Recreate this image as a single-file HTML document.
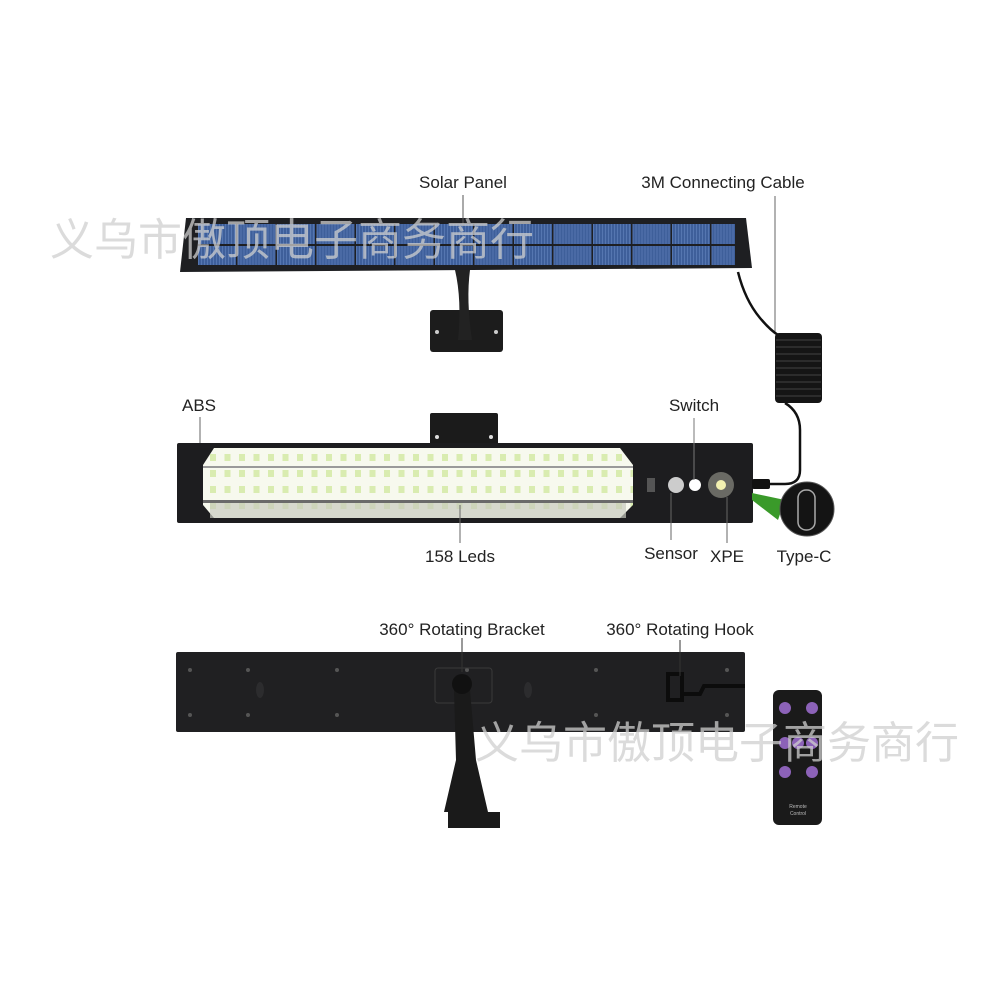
<!DOCTYPE html>
<html><head><meta charset="utf-8"><style>
html,body{margin:0;padding:0;background:#fff;width:1000px;height:1000px;overflow:hidden}
svg{display:block}
text{font-family:"Liberation Sans",sans-serif;fill:#222}
.wm{font-family:"Liberation Sans","Noto Sans CJK SC",sans-serif;fill:#cfcfcf;fill-opacity:.75;font-size:44px}
</style></head><body>
<svg width="1000" height="1000" viewBox="0 0 1000 1000" xmlns="http://www.w3.org/2000/svg">
<defs>
<pattern id="cells" x="198" y="224" width="39.5" height="21" patternUnits="userSpaceOnUse">
<rect x="0" y="0" width="38" height="20" fill="#3e5f9a"/>
<rect x="0" y="0" width="38" height="20" fill="url(#stripe)"/>
</pattern>
<pattern id="stripe" width="3" height="20" patternUnits="userSpaceOnUse"><rect width="1" height="20" fill="#5576b0"/></pattern>
<pattern id="leds" x="206" y="450" width="14.5" height="16" patternUnits="userSpaceOnUse">
<rect width="14.5" height="16" fill="#f7f9ee"/>
<rect x="4" y="4" width="6" height="7" fill="#d9ecb0"/>
</pattern>
</defs>

<!-- Solar panel -->
<polygon points="186,218 746,218 752,268 180,272" fill="#1e1f22"/>
<rect x="198" y="224" width="537" height="41" fill="url(#cells)"/>
<rect x="198" y="244" width="537" height="2" fill="#1e1f22"/>
<rect x="430" y="310" width="73" height="42" rx="3" fill="#1c1c1c"/>
<path d="M455,270 Q462,300 458,340 L472,340 Q466,300 470,270Z" fill="#222"/>
<circle cx="437" cy="332" r="2" fill="#ccc"/><circle cx="496" cy="332" r="2" fill="#ccc"/>
<line x1="463" y1="195" x2="463" y2="226" stroke="#555" stroke-width="1"/>
<text x="463" y="188" font-size="17" text-anchor="middle">Solar Panel</text>
<text x="723" y="188" font-size="17" text-anchor="middle">3M Connecting Cable</text>
<line x1="775" y1="196" x2="775" y2="333" stroke="#666" stroke-width="1"/>
<!-- cable -->
<path d="M738,272 Q745,300 760,318 Q770,330 778,335" fill="none" stroke="#111" stroke-width="2.5"/>
<rect x="775" y="333" width="47" height="70" rx="4" fill="#151515"/>
<g stroke="#444" stroke-width="1">
<line x1="776" y1="340" x2="821" y2="340"/><line x1="776" y1="347" x2="821" y2="347"/><line x1="776" y1="354" x2="821" y2="354"/><line x1="776" y1="361" x2="821" y2="361"/><line x1="776" y1="368" x2="821" y2="368"/><line x1="776" y1="375" x2="821" y2="375"/><line x1="776" y1="382" x2="821" y2="382"/><line x1="776" y1="389" x2="821" y2="389"/><line x1="776" y1="396" x2="821" y2="396"/>
</g>
<path d="M785,403 Q800,412 800,430 L800,470 Q800,484 785,484 L770,484" fill="none" stroke="#111" stroke-width="2.5"/>

<!-- LED bar -->
<rect x="430" y="413" width="68" height="34" rx="2" fill="#1b1b1b"/>
<circle cx="437" cy="437" r="2" fill="#ddd"/><circle cx="491" cy="437" r="2" fill="#ddd"/>
<rect x="177" y="443" width="576" height="80" rx="2" fill="#1d1d1f"/>
<polygon points="214,448 620,448 633,465 633,505 620,518 214,518 203,505 203,465" fill="url(#leds)"/>
<rect x="203" y="466" width="430" height="2" fill="#9a9a9a"/>
<rect x="203" y="500" width="430" height="3" fill="#6a6a6a"/>
<rect x="210" y="503" width="416" height="15" fill="#c8cabf" opacity=".7"/>
<rect x="647" y="478" width="8" height="14" fill="#555"/>
<circle cx="676" cy="485" r="8" fill="#ccc"/>
<circle cx="695" cy="485" r="6" fill="#fff"/>
<circle cx="721" cy="485" r="13" fill="#6a6a64"/>
<circle cx="721" cy="485" r="5" fill="#f2f0b0"/>
<rect x="752" y="479" width="18" height="10" rx="2" fill="#111"/>
<polygon points="752,493 752,500 778,520 785,500" fill="#3a9a2a"/>
<circle cx="807" cy="509" r="27" fill="#141414" stroke="#555" stroke-width="1"/>
<rect x="798" y="490" width="17" height="40" rx="8" fill="none" stroke="#aaa" stroke-width="1.5"/>
<line x1="200" y1="417" x2="200" y2="443" stroke="#666"/>
<text x="199" y="411" font-size="17" text-anchor="middle">ABS</text>
<line x1="694" y1="418" x2="694" y2="480" stroke="#777"/>
<text x="694" y="411" font-size="17" text-anchor="middle">Switch</text>
<line x1="460" y1="505" x2="460" y2="543" stroke="#666"/>
<text x="460" y="562" font-size="17" text-anchor="middle">158 Leds</text>
<line x1="671" y1="493" x2="671" y2="540" stroke="#666"/>
<text x="671" y="559" font-size="17" text-anchor="middle">Sensor</text>
<line x1="727" y1="497" x2="727" y2="543" stroke="#666"/>
<text x="727" y="562" font-size="17" text-anchor="middle">XPE</text>
<text x="804" y="562" font-size="17" text-anchor="middle">Type-C</text>

<!-- Back bar -->
<rect x="176" y="652" width="569" height="80" rx="2" fill="#202022"/>
<g fill="#555">
<circle cx="190" cy="670" r="2"/><circle cx="248" cy="670" r="2"/><circle cx="337" cy="670" r="2"/><circle cx="467" cy="670" r="2"/><circle cx="596" cy="670" r="2"/><circle cx="727" cy="670" r="2"/>
<circle cx="190" cy="715" r="2"/><circle cx="248" cy="715" r="2"/><circle cx="337" cy="715" r="2"/><circle cx="596" cy="715" r="2"/><circle cx="727" cy="715" r="2"/>
</g>
<ellipse cx="260" cy="690" rx="4" ry="8" fill="#2c2c2e"/><ellipse cx="528" cy="690" rx="4" ry="8" fill="#2c2c2e"/>
<rect x="435" y="668" width="57" height="35" rx="3" fill="none" stroke="#3a3a3a"/>
<path d="M668,674 L682,674 L682,700 L668,700 Z M682,694 L700,694 L704,686 L745,686" fill="none" stroke="#0c0c0c" stroke-width="4"/>
<path d="M454,690 L470,690 L476,760 L488,812 L444,812 L456,760 Z" fill="#1a1a1a"/>
<circle cx="462" cy="684" r="10" fill="#111"/>
<rect x="448" y="812" width="52" height="16" fill="#1a1a1a"/>
<line x1="462" y1="638" x2="462" y2="672" stroke="#333"/>
<text x="462" y="635" font-size="17" text-anchor="middle">360° Rotating Bracket</text>
<line x1="680" y1="640" x2="680" y2="676" stroke="#333"/>
<text x="680" y="635" font-size="17" text-anchor="middle">360° Rotating Hook</text>

<!-- remote -->
<rect x="773" y="690" width="49" height="135" rx="6" fill="#1a1a1a"/>
<circle cx="785" cy="708" r="6" fill="#8c62b8"/><circle cx="812" cy="708" r="6" fill="#8c62b8"/>
<circle cx="785" cy="743" r="6" fill="#8c62b8"/><circle cx="798" cy="743" r="6" fill="#8c62b8"/><circle cx="812" cy="743" r="6" fill="#8c62b8"/>
<circle cx="785" cy="772" r="6" fill="#8c62b8"/><circle cx="812" cy="772" r="6" fill="#8c62b8"/>
<text x="798" y="808" font-size="5" text-anchor="middle" style="fill:#bbb">Remote</text>
<text x="798" y="815" font-size="5" text-anchor="middle" style="fill:#bbb">Control</text>

<!-- watermarks -->
<text class="wm" x="50" y="255">义乌市傲顶电子商务商行</text>
<text class="wm" x="475" y="758">义乌市傲顶电子商务商行</text>
</svg>
</body></html>
